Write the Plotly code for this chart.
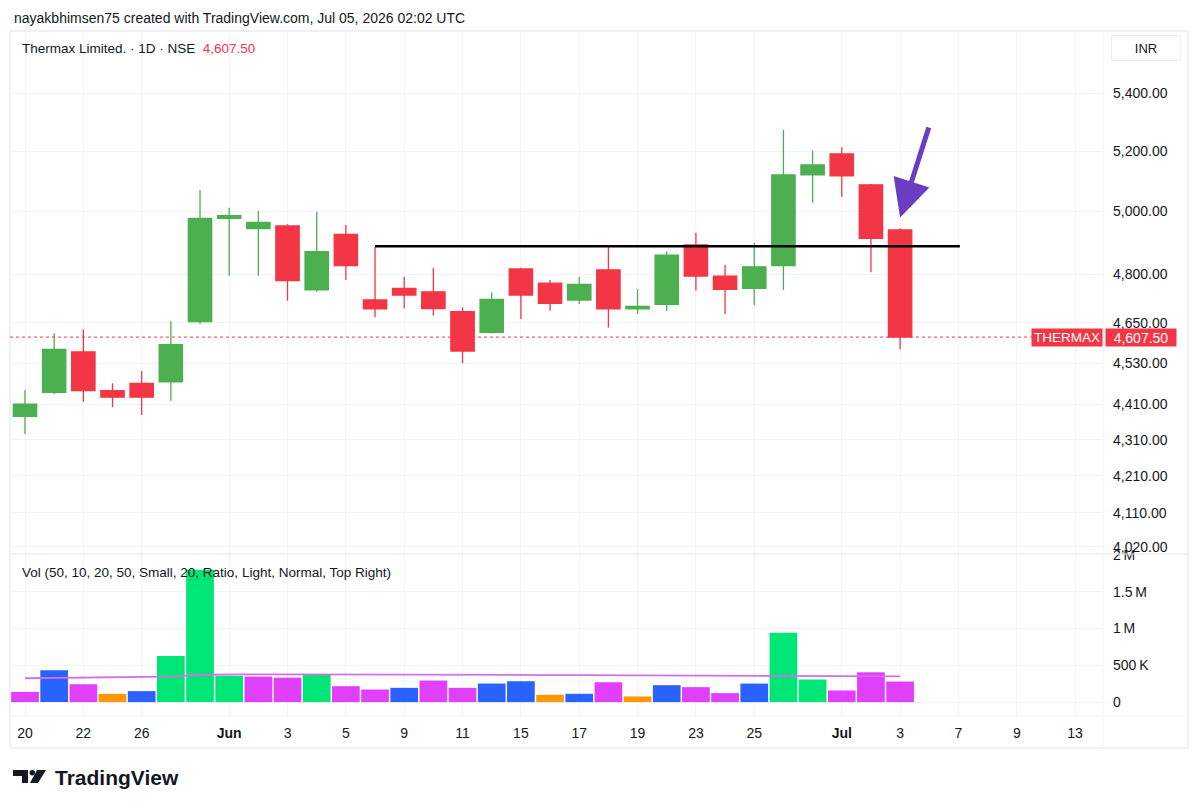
import math
import plotly.graph_objects as go

# ---------------- data ----------------
dates = ["2026-05-20", "2026-05-21", "2026-05-22", "2026-05-25", "2026-05-26", "2026-05-27",
         "2026-05-29", "2026-06-01", "2026-06-02", "2026-06-03", "2026-06-04", "2026-06-05",
         "2026-06-08", "2026-06-09", "2026-06-10", "2026-06-11", "2026-06-12", "2026-06-15",
         "2026-06-16", "2026-06-17", "2026-06-18", "2026-06-19", "2026-06-22", "2026-06-23",
         "2026-06-24", "2026-06-25", "2026-06-29", "2026-06-30", "2026-07-01", "2026-07-02",
         "2026-07-03"]
open_ = [4376, 4445, 4563, 4450, 4471, 4475, 4654, 4977, 4944, 4953, 4751, 4926, 4720, 4756, 4745,
         4684, 4622, 4816, 4772, 4720, 4813, 4693, 4707, 4892, 4794, 4756, 4827, 5120, 5190, 5087, 4940]
high = [4452, 4619, 4631, 4471, 4507, 4655, 5070, 5012, 5001, 4958, 4999, 4956, 4886, 4792, 4820,
        4698, 4743, 4820, 4782, 4792, 4886, 4754, 4871, 4931, 4829, 4899, 5272, 5201, 5213, 5090, 4945]
low = [4326, 4440, 4418, 4402, 4380, 4420, 4647, 4795, 4795, 4718, 4745, 4782, 4667, 4695, 4672,
       4530, 4618, 4662, 4687, 4708, 4636, 4677, 4687, 4749, 4677, 4704, 4751, 5028, 5048, 4806, 4571]
close = [4411, 4571, 4450, 4431, 4431, 4585, 4977, 4986, 4964, 4780, 4871, 4827, 4693, 4735, 4694,
         4566, 4722, 4735, 4710, 4768, 4693, 4700, 4860, 4794, 4753, 4823, 5120, 5153, 5117, 4913, 4607.5]
volume = [139e3, 432e3, 243e3, 112e3, 149e3, 626e3, 1800e3, 356e3, 347e3, 333e3, 369e3, 216e3,
          171e3, 194e3, 293e3, 194e3, 252e3, 284e3, 99e3, 113e3, 270e3, 77e3, 230e3, 203e3,
          122e3, 252e3, 942e3, 307e3, 158e3, 405e3, 280e3]
vol_class = ["mid", "above", "mid", "low", "above", "high", "high", "high", "mid", "mid", "high", "mid",
             "mid", "above", "mid", "mid", "above", "above", "low", "above", "mid", "low", "above", "mid",
             "mid", "above", "high", "high", "mid", "mid", "mid"]
vol_ma = [324e3, 327e3, 330e3, 333e3, 336e3, 345e3, 372e3, 378e3, 378e3, 377e3, 377e3, 376e3,
          376e3, 375e3, 375e3, 374e3, 373e3, 370e3, 368e3, 366e3, 364e3, 362e3, 360e3, 358e3,
          356e3, 355e3, 354e3, 353e3, 352e3, 352e3, 351e3]

tick_idx = [0, 2, 4, 7, 9, 11, 13, 15, 17, 19, 21, 23, 25, 28, 30, 32, 34, 36]
tick_text = ["20", "22", "26", "<b>Jun</b>", "3", "5", "9", "11", "15", "17", "19", "23", "25",
             "<b>Jul</b>", "3", "7", "9", "13"]
price_ticks = [5400, 5200, 5000, 4800, 4650, 4530, 4410, 4310, 4210, 4110, 4020]
vol_ticks = [0, 500000, 1000000, 1500000, 2000000]
vol_tick_text = ["0", "500\u202fK", "1\u202fM", "1.5\u202fM", "2\u202fM"]

last_price = 4607.50
level_price = 4888
level_from, level_to = 12, 32.05
arrow_tip = (30, 4980)
arrow_tail = (31.0, 5285)

# ---------------- styles ----------------
UP, DOWN = "#4caf50", "#f23645"
VOL_COLORS = {"high": "#00e676", "above": "#2962ff", "mid": "#e040fb", "low": "#ff9800"}
TXT = "#131722"
GRID = "#f0f3fa"
BORDER = "#e0e3eb"
FONT = "Liberation Sans, Arial, sans-serif"

W, H = 1200, 812
L, R, T, B = 10, 97, 32, 96
PW, PH = W - L - R, H - T - B


def X(px):
    return (px - L) / PW


def Y(py):
    return (H - B - py) / PH


x = list(range(len(dates)))
x_range = [(L - 25) / 29.17, (W - R - 25) / 29.17]

fig = go.Figure()
fig.add_trace(go.Candlestick(
    x=x, open=open_, high=high, low=low, close=close,
    increasing=dict(line=dict(color=UP, width=1.3), fillcolor=UP),
    decreasing=dict(line=dict(color=DOWN, width=1.3), fillcolor=DOWN),
    whiskerwidth=0, xaxis="x", yaxis="y", hoverinfo="skip"))

# last price dotted line
fig.add_trace(go.Scatter(x=x_range, y=[last_price, last_price], mode="lines",
                         line=dict(color=DOWN, width=1, dash="dot"), xaxis="x", yaxis="y",
                         hoverinfo="skip"))
# drawn horizontal level
fig.add_trace(go.Scatter(x=[level_from, level_to], y=[level_price, level_price], mode="lines",
                         line=dict(color="#000000", width=2.5), xaxis="x", yaxis="y",
                         hoverinfo="skip"))

fig.add_trace(go.Bar(x=x, y=volume, marker=dict(color=[VOL_COLORS[c] for c in vol_class], line=dict(width=0)),
                     xaxis="x2", yaxis="y2", hoverinfo="skip"))
fig.add_trace(go.Scatter(x=x, y=vol_ma, mode="lines", line=dict(color="#cf72e6", width=1.8),
                         xaxis="x2", yaxis="y2", hoverinfo="skip"))

price_dom = [Y(553), 1]
vol_dom = [0, Y(555)]

fig.update_layout(
    width=W, height=H, margin=dict(l=L, r=R, t=T, b=B),
    paper_bgcolor="white", plot_bgcolor="white", showlegend=False,
    font=dict(family=FONT, color=TXT, size=14),
    bargap=0.05, boxgap=0.2, boxgroupgap=0, hovermode=False,
    xaxis=dict(domain=[0, 1], anchor="y", range=x_range, tickmode="array", tickvals=tick_idx,
               showticklabels=False, showgrid=True, gridcolor=GRID, zeroline=False,
               rangeslider=dict(visible=False), showline=False, ticks=""),
    xaxis2=dict(domain=[0, 1], anchor="y2", matches="x", range=x_range, tickmode="array",
                tickvals=tick_idx, ticktext=tick_text, showgrid=True, gridcolor=GRID,
                zeroline=False, showline=False, ticks="", ticklabelstandoff=7,
                tickfont=dict(size=14, color=TXT)),
    yaxis=dict(domain=price_dom, anchor="x", type="log",
               range=[math.log10(4004), math.log10(5618.5)], side="right",
               tickmode="array", tickvals=price_ticks,
               ticktext=[f"{v:,.2f}" for v in price_ticks], showgrid=True, gridcolor=GRID,
               zeroline=False, showline=False, ticks="", ticklabelstandoff=9,
               tickfont=dict(size=14, color=TXT)),
    yaxis2=dict(domain=vol_dom, anchor="x2", range=[-189000, 2000000], side="right",
                tickmode="array", tickvals=vol_ticks, ticktext=vol_tick_text, showgrid=True,
                gridcolor=GRID, zeroline=False, showline=False, ticks="", ticklabelstandoff=9,
                tickfont=dict(size=14, color=TXT)),
)

ann = []
ann.append(dict(xref="paper", yref="paper", x=X(12), y=Y(18), xanchor="left", yanchor="middle",
                text="nayakbhimsen75 created with TradingView.com, Jul 05, 2026 02:02 UTC",
                showarrow=False, font=dict(size=14, color=TXT)))
ann.append(dict(xref="paper", yref="paper", x=X(20), y=Y(48), xanchor="left", yanchor="middle",
                text=f"Thermax Limited. · 1D · NSE  <span style='color:{DOWN}'>{last_price:,.2f}</span>",
                showarrow=False, font=dict(size=13.5, color=TXT)))
ann.append(dict(xref="paper", yref="paper", x=X(1146), y=Y(48), xanchor="center", yanchor="middle",
                text="INR", showarrow=False, width=64, height=20, bordercolor="#eef0f4",
                borderwidth=1, borderpad=2, font=dict(size=13, color=TXT)))
ann.append(dict(xref="paper", yref="paper", x=X(20), y=Y(572), xanchor="left", yanchor="middle",
                text="Vol (50, 10, 20, 50, Small, 20, Ratio, Light, Normal, Top Right)",
                showarrow=False, font=dict(size=13.5, color=TXT)))
ann.append(dict(xref="paper", yref="y", x=X(1067), y=math.log10(last_price), xanchor="center",
                yanchor="middle", text="THERMAX", showarrow=False, bgcolor=DOWN, width=68, height=15,
                borderpad=1, font=dict(size=13.5, color="white")))
ann.append(dict(xref="paper", yref="y", x=X(1140.5), y=math.log10(last_price), xanchor="center",
                yanchor="middle", text=f"{last_price:,.2f}", showarrow=False, bgcolor=DOWN, width=68,
                height=15, borderpad=1, font=dict(size=14, color="white")))
ann.append(dict(xref="x", yref="y", x=arrow_tip[0], y=math.log10(arrow_tip[1]),
                axref="x", ayref="y", ax=arrow_tail[0], ay=math.log10(arrow_tail[1]),
                text="", showarrow=True, arrowhead=2, arrowsize=1.5, arrowwidth=5,
                arrowcolor="#6a3dc2", standoff=0))
ann.append(dict(xref="paper", yref="paper", x=X(53), y=Y(778), xanchor="left", yanchor="middle",
                text="<b>TradingView</b>", showarrow=False,
                font=dict(size=21, color=TXT, family="Liberation Sans, Arial")))
fig.update_layout(annotations=ann)

shapes = []
# frame
shapes.append(dict(type="rect", xref="paper", yref="paper", x0=X(10), x1=X(1188), y0=Y(748), y1=Y(31),
                   line=dict(color=BORDER, width=1), fillcolor="rgba(0,0,0,0)", layer="below"))
shapes.append(dict(type="line", xref="paper", yref="paper", x0=X(10), x1=X(1188), y0=Y(554), y1=Y(554),
                   line=dict(color=BORDER, width=1)))
shapes.append(dict(type="line", xref="paper", yref="paper", x0=X(10), x1=X(1188), y0=Y(716), y1=Y(716),
                   line=dict(color="#f0f2f6", width=1)))
shapes.append(dict(type="line", xref="paper", yref="paper", x0=X(1103), x1=X(1103), y0=Y(748), y1=Y(31),
                   line=dict(color="#f0f2f6", width=1)))


def path(points):
    return "M " + " L ".join(f"{X(a):.5f},{Y(b):.5f}" for a, b in points) + " Z"


# TradingView logo mark
shapes.append(dict(type="path", xref="paper", yref="paper",
                   path=path([(13, 770), (28, 770), (28, 783), (22, 783), (22, 776), (13, 776)]),
                   fillcolor=TXT, line=dict(width=0)))
shapes.append(dict(type="circle", xref="paper", yref="paper", x0=X(29.5), x1=X(35), y0=Y(775.5), y1=Y(770),
                   fillcolor=TXT, line=dict(width=0)))
shapes.append(dict(type="path", xref="paper", yref="paper",
                   path=path([(37, 770), (46, 770), (38, 783), (30, 783)]),
                   fillcolor=TXT, line=dict(width=0)))
fig.update_layout(shapes=shapes)

fig.write_html("out.html")
